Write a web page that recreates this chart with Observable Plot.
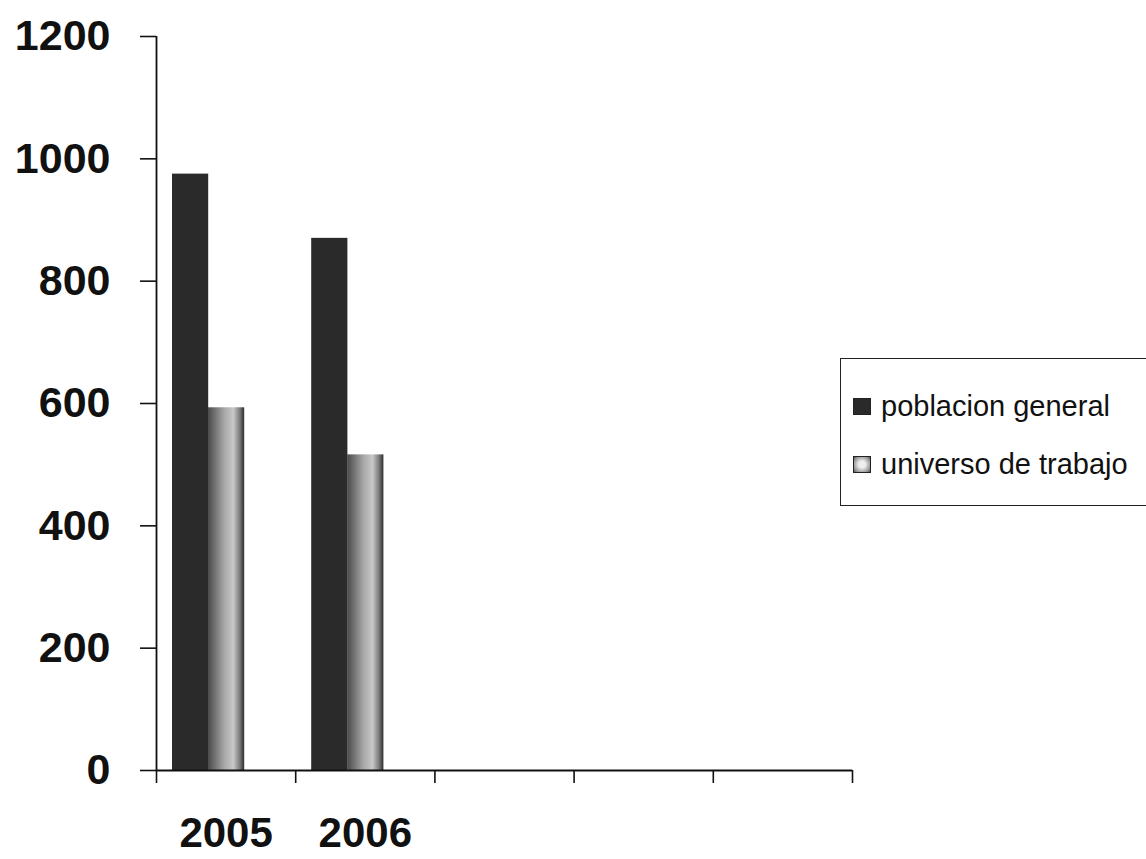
<!DOCTYPE html>
<html>
<head>
<meta charset="utf-8">
<script src="https://cdn.jsdelivr.net/npm/d3@7"></script>
<script src="https://cdn.jsdelivr.net/npm/@observablehq/plot@0.6"></script>
<style>
  html, body { margin: 0; padding: 0; background: #fff; overflow: hidden; }
  #wrap { position: relative; width: 1146px; height: 859px; overflow: hidden; }
  #legend {
    position: absolute; left: 840px; top: 358px; width: 330px; height: 148px;
    border: 1.5px solid #222; box-sizing: border-box; background: #fff;
    font-family: "Liberation Sans", Arial, sans-serif; font-size: 29px; color: #111;
  }
  .item { position: absolute; left: 12px; display: flex; align-items: center; white-space: nowrap; height: 34px; }
  .sw { width: 18px; height: 17px; margin-right: 10px; box-sizing: border-box; }
</style>
</head>
<body>
<div id="wrap"></div>
<script>
// ---- data ----
const slotLabels = ["2005", "2006", "", "", ""];           // category slots on the x axis
const years = ["2005", "2006"];
const poblacionGeneral = [975, 870];
const universoTrabajo = [593, 516];
const seriesNames = ["poblacion general", "universo de trabajo"];
const yTicks = [0, 200, 400, 600, 800, 1000, 1200];

const rowsPG = years.map((y, i) => ({slot: slotLabels.indexOf(y), value: poblacionGeneral[i], series: seriesNames[0]}));
const rowsUT = years.map((y, i) => ({slot: slotLabels.indexOf(y), value: universoTrabajo[i], series: seriesNames[1]}));

const font = '"Liberation Sans", Arial, sans-serif';

const chart = Plot.plot({
  width: 1146,
  height: 859,
  marginLeft: 156,
  marginRight: 294,
  marginTop: 36,
  marginBottom: 89,
  style: {fontFamily: font, color: "#111", background: "transparent"},
  x: {domain: [0, slotLabels.length], axis: null},
  y: {domain: [0, 1200], axis: null},
  marks: [
    Plot.rectY(rowsPG, {x1: d => d.slot, x2: d => d.slot + 1, y: "value", fill: "#2a2a2a", insetLeft: 16, insetRight: 87}),
    Plot.rectY(rowsUT, {x1: d => d.slot, x2: d => d.slot + 1, y: "value", fill: "url(#utGrad)", insetLeft: 52, insetRight: 51}),
    // y axis
    Plot.axisY({ticks: yTicks, tickSize: 16, tickPadding: 30, tickFormat: d => String(d), label: null,
      fontSize: 43, fontWeight: "bold", stroke: "#111", strokeWidth: 1.6}),
    Plot.ruleX([0], {stroke: "#111", strokeWidth: 1.8}),
    // x axis: ticks at slot boundaries, labels centred in slots
    Plot.axisX({ticks: d3.range(slotLabels.length + 1), tickSize: 13, tickFormat: () => "", label: null,
      stroke: "#111", strokeWidth: 1.6}),
    Plot.axisX({ticks: d3.range(slotLabels.length).map(i => i + 0.5), tickSize: 0, tickPadding: 47, label: null,
      tickFormat: d => slotLabels[Math.floor(d)], fontSize: 42, fontWeight: "bold"}),
    Plot.ruleY([0], {stroke: "#111", strokeWidth: 1.8})
  ]
});

// gradient for the second series
const ns = "http://www.w3.org/2000/svg";
const defs = document.createElementNS(ns, "defs");
defs.innerHTML = `
  <linearGradient id="utGrad" x1="0" y1="0" x2="1" y2="0">
    <stop offset="0%" stop-color="#4a4a4a"/>
    <stop offset="45%" stop-color="#a8a8a8"/>
    <stop offset="70%" stop-color="#c8c8c8"/>
    <stop offset="88%" stop-color="#7a7a7a"/>
    <stop offset="100%" stop-color="#2e2e2e"/>
  </linearGradient>`;
chart.insertBefore(defs, chart.firstChild);

const wrap = document.getElementById("wrap");
wrap.appendChild(chart);

// legend
const legend = document.createElement("div");
legend.id = "legend";
const swatches = ["#2a2a2a", "radial-gradient(circle,#eee 30%,#999 75%,#555)"];
const centers = [47, 105];
seriesNames.forEach((name, i) => {
  const it = document.createElement("div");
  it.className = "item";
  it.style.top = (centers[i] - 17) + "px";
  const sw = document.createElement("span");
  sw.className = "sw";
  sw.style.background = swatches[i];
  sw.style.border = "1.5px solid #222";
  const tx = document.createElement("span");
  tx.textContent = name;
  it.appendChild(sw); it.appendChild(tx);
  legend.appendChild(it);
});
wrap.appendChild(legend);
</script>
</body>
</html>
